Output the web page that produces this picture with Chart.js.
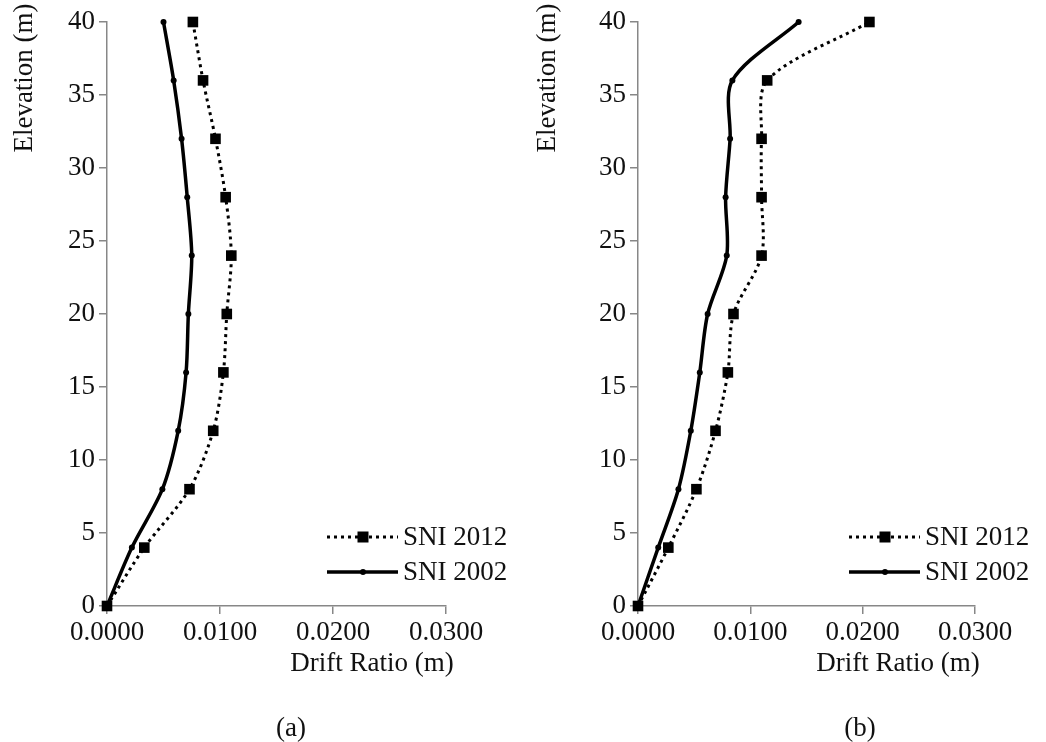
<!DOCTYPE html>
<html lang="en">
<head>
    <meta charset="UTF-8">
    <title>Drift Ratio vs Elevation</title>
    <script src="https://cdn.jsdelivr.net/npm/chart.js"></script>
    <style>
        body { margin: 0; background: #fff; }
        #wrap { position: relative; width: 1046px; height: 742px; overflow: hidden; }
        canvas { position: absolute; top: 0; }
        .cap { position: absolute; top: 712px; font-size: 27px; font-family: "Liberation Serif", "Times New Roman", "DejaVu Serif", serif; color: #111; width: 60px; text-align: center; }
    </style>
</head>
<body>
    <div id="wrap">
        <canvas id="chart-a" width="523" height="742" style="left:0"></canvas>
        <canvas id="chart-b" width="523" height="742" style="left:523px"></canvas>
        <div class="cap" style="left:261px">(a)</div>
        <div class="cap" style="left:830px">(b)</div>
    </div>

    <script>
        // elevation levels (m)
        const elevation = [0, 4, 8, 12, 16, 20, 24, 28, 32, 36, 40];

        // (a) drift ratios
        const sni2012A = [0, 0.0033, 0.0073, 0.0094, 0.0103, 0.0106, 0.0110, 0.0105, 0.0096, 0.0085, 0.0076];
        const sni2002A = [0, 0.0022, 0.0049, 0.0063, 0.0070, 0.0072, 0.0075, 0.0071, 0.0066, 0.0059, 0.0050];

        // (b) drift ratios
        const sni2012B = [0, 0.0027, 0.0052, 0.0069, 0.0080, 0.0085, 0.0110, 0.0110, 0.0110, 0.0115, 0.0206];
        const sni2002B = [0, 0.0018, 0.0036, 0.0047, 0.0055, 0.0062, 0.0079, 0.0078, 0.0082, 0.0084, 0.0143];

        const seriesNames = ['SNI 2012', 'SNI 2002'];

        const FONT = '"Liberation Serif", "Times New Roman", "DejaVu Serif", serif';
        const FSIZE = 27;
        const TEXT = '#111';
        const AXIS = '#878787';

        function toPoints(xs) {
            return xs.map((x, i) => ({ x: x, y: elevation[i] }));
        }

        // draws y title at the top, x title, and the legend box
        const extraText = {
            id: 'extraText',
            afterDraw(chart, args, opts) {
                const ctx = chart.ctx;
                ctx.save();
                ctx.fillStyle = TEXT;
                ctx.font = FSIZE + 'px ' + FONT;
                ctx.textBaseline = 'middle';

                // y axis title
                ctx.save();
                ctx.translate(opts.yTitleX, 78);
                ctx.rotate(-Math.PI / 2);
                ctx.textAlign = 'center';
                ctx.fillText('Elevation (m)', 0, 0);
                ctx.restore();

                // x axis title
                ctx.textAlign = 'center';
                ctx.fillText('Drift Ratio (m)', opts.xTitleX, 664);

                // legend
                ctx.textAlign = 'left';
                chart.data.datasets.forEach((ds, i) => {
                    const y = 537 + i * 35;
                    ctx.save();
                    ctx.strokeStyle = '#000';
                    ctx.lineWidth = ds.borderWidth;
                    ctx.setLineDash(ds.borderDash || []);
                    ctx.beginPath();
                    ctx.moveTo(opts.legendX, y);
                    ctx.lineTo(opts.legendX + 71, y);
                    ctx.stroke();
                    ctx.restore();
                    const mx = opts.legendX + 36;
                    ctx.fillStyle = '#000';
                    if (ds.pointStyle === 'rect') {
                        ctx.fillRect(mx - 5.5, y - 5.5, 11, 11);
                    } else {
                        ctx.beginPath();
                        ctx.arc(mx, y, 3, 0, Math.PI * 2);
                        ctx.fill();
                    }
                    ctx.fillStyle = TEXT;
                    ctx.fillText(ds.label, opts.legendX + 76, y + 1);
                });
                ctx.restore();
            }
        };

        function makeChart(id, s2012, s2002, lay) {
            return new Chart(document.getElementById(id), {
                type: 'scatter',
                data: {
                    datasets: [{
                        label: seriesNames[0],
                        data: toPoints(s2012),
                        showLine: true,
                        borderColor: '#000',
                        backgroundColor: '#000',
                        borderWidth: 3,
                        borderDash: [3, 4],
                        tension: 0.3,
                        pointStyle: 'rect',
                        pointRadius: 7.5,
                        pointBorderWidth: 0,
                        clip: false
                    }, {
                        label: seriesNames[1],
                        data: toPoints(s2002),
                        showLine: true,
                        borderColor: '#000',
                        backgroundColor: '#000',
                        borderWidth: 3.5,
                        tension: 0.3,
                        pointStyle: 'circle',
                        pointRadius: 3,
                        pointBorderWidth: 0,
                        clip: false
                    }]
                },
                options: {
                    responsive: false,
                    animation: false,
                    layout: { autoPadding: false, padding: { top: 22, right: lay.padRight, left: 0, bottom: 0 } },
                    plugins: {
                        legend: { display: false },
                        tooltip: { enabled: false },
                        extraText: lay
                    },
                    scales: {
                        x: {
                            type: 'linear',
                            min: 0,
                            max: 0.03,
                            afterFit: (s) => { s.height = 136; },
                            ticks: {
                                stepSize: 0.01,
                                padding: 3,
                                color: TEXT,
                                font: { family: FONT, size: FSIZE },
                                callback: (v) => v.toFixed(4)
                            },
                            grid: { drawOnChartArea: false, color: AXIS, tickLength: 8, lineWidth: 1.5 },
                            border: { color: AXIS, width: 1.5 }
                        },
                        y: {
                            min: 0,
                            max: 40,
                            afterFit: (s) => { s.width = lay.yAxisWidth; },
                            ticks: {
                                stepSize: 5,
                                padding: 4,
                                color: TEXT,
                                font: { family: FONT, size: FSIZE }
                            },
                            grid: { drawOnChartArea: false, color: AXIS, tickLength: 8, lineWidth: 1.5 },
                            border: { color: AXIS, width: 1.5 }
                        }
                    }
                },
                plugins: [extraText]
            });
        }

        makeChart('chart-a', sni2012A, sni2002A, { yAxisWidth: 107, padRight: 77, yTitleX: 25, xTitleX: 372, legendX: 327 });
        makeChart('chart-b', sni2012B, sni2002B, { yAxisWidth: 115, padRight: 71, yTitleX: 25, xTitleX: 375, legendX: 326 });
    </script>
</body>
</html>
